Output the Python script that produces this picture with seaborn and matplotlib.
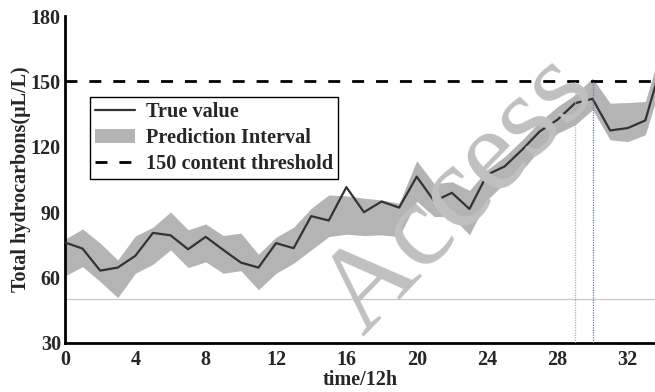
import matplotlib
matplotlib.use("Agg")
import matplotlib.pyplot as plt
import seaborn as sns
import pandas as pd
from matplotlib.lines import Line2D
from matplotlib.patches import Patch

# Observation index (one step = 12 h)
steps = list(range(35))
true_value = [76.1, 73.3, 63.2, 64.6, 70.0, 80.5, 79.4, 73.0, 78.7, 72.7,
              66.9, 64.6, 75.8, 73.5, 88.2, 86.2, 101.5, 90.0, 94.9, 92.1,
              106.3, 95.0, 98.9, 91.5, 107.2, 111.0, 118.7, 127.1, 132.4, 140.0,
              142.0, 127.5, 128.6, 132.1, 160.0]
interval_upper = [77.6, 82.3, 75.8, 68.1, 79.1, 83.1, 90.1, 81.9, 84.6, 79.3,
                  80.4, 70.7, 78.5, 83.1, 91.8, 97.9, 97.5, 96.4, 95.6, 94.1,
                  113.6, 103.0, 104.0, 100.0, 109.4, 115.5, 123.2, 131.6, 138.4, 143.8,
                  151.5, 140.0, 140.3, 140.8, 168.0]
interval_lower = [60.8, 65.0, 58.2, 50.8, 62.0, 66.1, 72.7, 64.6, 67.2, 62.0,
                  63.2, 54.4, 62.0, 66.6, 72.7, 78.8, 79.9, 79.3, 79.6, 78.8,
                  95.0, 88.0, 88.0, 79.6, 95.6, 103.3, 109.4, 118.6, 126.2, 130.0,
                  137.0, 123.2, 122.4, 125.5, 152.0]
threshold = 150
reference_level = 50
alarm_steps = [29, 30]
x_ticks = [0, 4, 8, 12, 16, 20, 24, 28, 32]
y_ticks = [30, 60, 90, 120, 150, 180]
labels = ["True value", "Prediction Interval", "150 content threshold"]

df = pd.DataFrame({"step": steps, "true": true_value,
                   "upper": interval_upper, "lower": interval_lower})

sns.set_theme(style="white")
plt.rcParams["font.family"] = ["Liberation Serif", "DejaVu Serif"]
plt.rcParams["font.weight"] = "bold"

FS = 14.5
LEG_FS = 14.6
fig = plt.figure(figsize=(6.55, 3.92), dpi=100)
ax = fig.add_axes([65 / 655, 1 - 343 / 392, 590 / 655, 327 / 392])

band_color = "#b4b4b4"
line_color = "#333333"

ax.fill_between(df["step"], df["lower"], df["upper"], color=band_color,
                linewidth=0, zorder=2)
sns.lineplot(data=df, x="step", y="true", ax=ax, color=line_color,
             linewidth=1.6, zorder=3, legend=False)
ax.axhline(threshold, color="black", linewidth=2, dashes=(4.3, 4.3), zorder=4)
ax.axhline(reference_level, color="#c8c8c8", linewidth=0.9, zorder=1)
for s, c in zip(alarm_steps, ["#8db8ee", "#3f86e0"]):
    ax.plot([s, s], [30, threshold], color=c, linewidth=0.9,
            linestyle=(0, (1, 1)), zorder=5)

ax.set_xlim(0, 33.55)
ax.set_ylim(30, 180)
ax.set_xticks(x_ticks)
ax.set_yticks(y_ticks)
ax.tick_params(direction="in", length=6, width=1.5, labelsize=FS)
ax.tick_params(axis="x", pad=5)
ax.tick_params(axis="y", pad=3)
for lab in ax.get_xticklabels() + ax.get_yticklabels():
    lab.set_fontweight("bold")
for side in ["top", "right"]:
    ax.spines[side].set_visible(False)
for side in ["left", "bottom"]:
    ax.spines[side].set_linewidth(2)
    ax.spines[side].set_color("black")

ax.set_xlabel("time/12h", fontsize=FS, fontweight="bold", labelpad=0)
ax.set_ylabel("Total hydrocarbons(μL/L)", fontsize=FS, fontweight="bold", labelpad=0)

handles = [Line2D([], [], color=line_color, linewidth=1.6),
           Patch(facecolor=band_color, edgecolor="none"),
           Line2D([], [], color="black", linewidth=2, dashes=(4.3, 4.3))]
leg = ax.legend(handles, labels, loc="upper left", bbox_to_anchor=(0.042, 0.752),
                borderaxespad=0, frameon=True, fancybox=False, framealpha=1,
                edgecolor="black", prop={"size": LEG_FS, "weight": "bold"},
                handlelength=2.0, handletextpad=0.5, borderpad=0.25,
                labelspacing=0.3)
leg.get_frame().set_linewidth(1.0)

# diagonal journal watermark
fig.text(460 / 655, 1 - 195 / 392, "Access", fontsize=86, color="#c0c0c0",
         rotation=46, rotation_mode="anchor", ha="center", va="center",
         family="Liberation Serif", fontweight="normal", zorder=10)

fig.savefig("out.png", dpi=100)
